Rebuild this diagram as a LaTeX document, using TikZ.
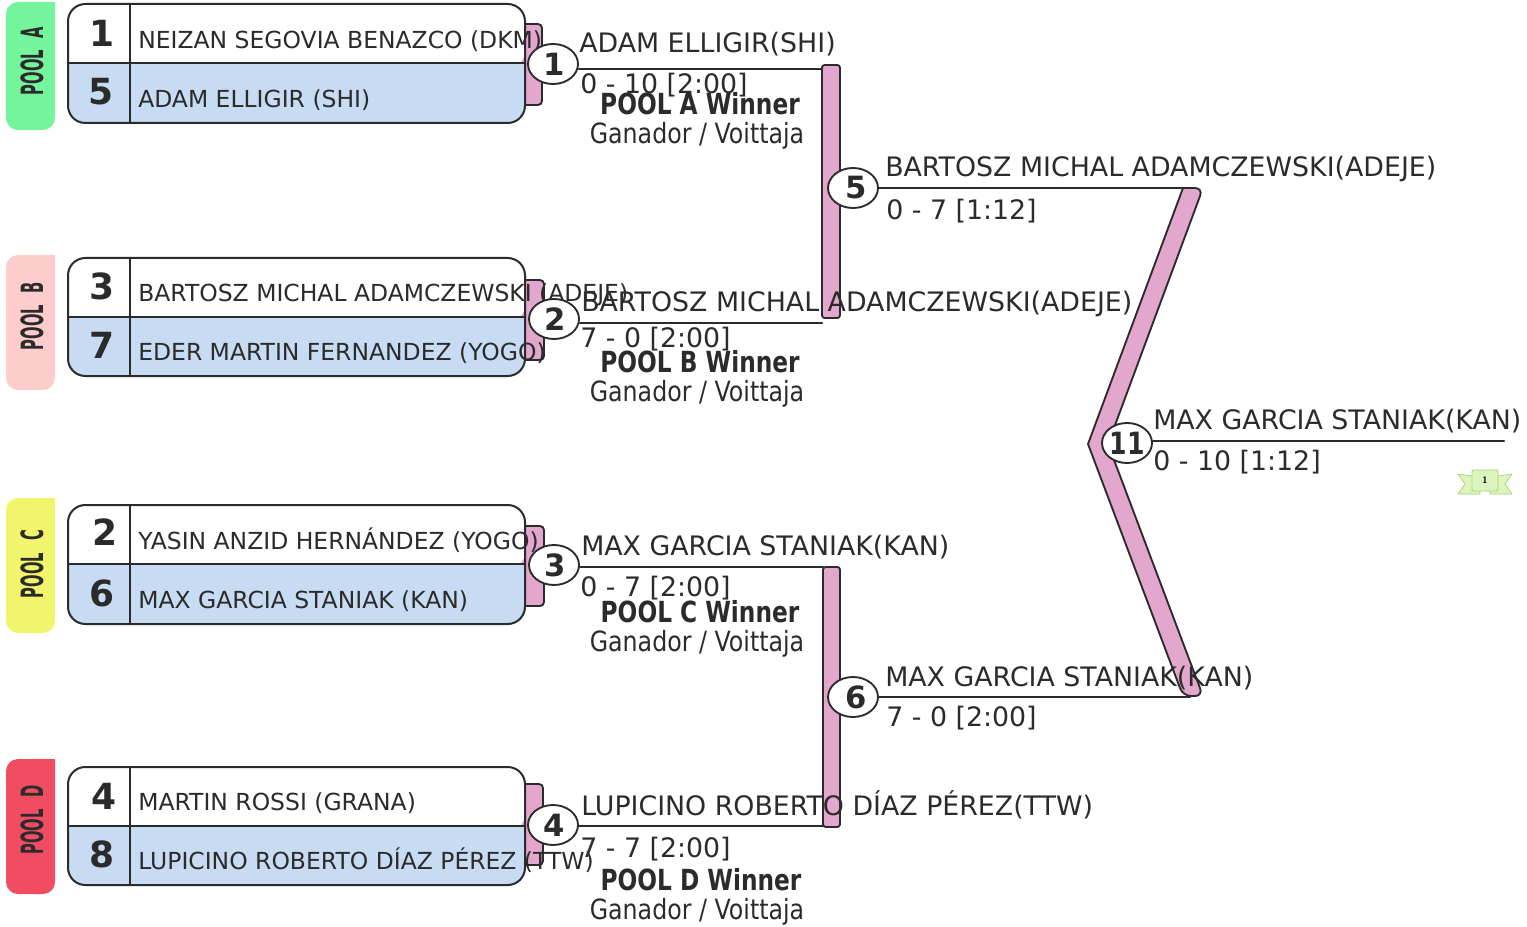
\documentclass[tikz,border=0pt]{standalone}
\usepackage{fontspec}
\setmainfont{DejaVu Sans}
\newfontfamily\condfont[FakeStretch=0.85]{DejaVu Sans}
\newfontfamily\headfont[FakeStretch=0.8]{DejaVu Sans}
\newfontfamily\narrowfont[FakeStretch=0.48]{DejaVu Sans}
\newfontfamily\elevenfont[FakeStretch=0.82]{DejaVu Sans}
\definecolor{ttxxtt}{HTML}{2B2B2B}
\definecolor{ppinkk}{HTML}{E3A6CC}
\definecolor{bblueq}{HTML}{C7DCF2}
\definecolor{poola}{HTML}{74F59B}
\definecolor{poolb}{HTML}{FFCCCC}
\definecolor{poolc}{HTML}{F2F56B}
\definecolor{poold}{HTML}{F04D63}
\definecolor{ribfil}{HTML}{DDF5BC}
\definecolor{ribdrw}{HTML}{A5CF7E}
\tikzset{
player/.style={anchor=base west,inner sep=0pt,text=ttxxtt,font=\fontsize{17.6}{17.6}\selectfont},
seed/.style={anchor=base,inner sep=0pt,text=ttxxtt,font=\fontsize{27}{27}\selectfont\bfseries},
winner/.style={anchor=base west,inner sep=0pt,text=ttxxtt,font=\fontsize{20.1}{20.1}\selectfont},
poolname/.style={anchor=base,inner sep=0pt,text=ttxxtt,font=\fontsize{21.8}{21.8}\selectfont\headfont\bfseries},
wintext/.style={anchor=base,inner sep=0pt,text=ttxxtt,font=\fontsize{20.9}{20.9}\selectfont\condfont},
poolside/.style={anchor=center,rotate=90,inner sep=0pt,text=ttxxtt,font=\fontsize{23}{23}\selectfont\narrowfont\bfseries},
match/.style={ellipse,draw=ttxxtt,fill=white,line width=1.4pt,minimum width=37.5pt,minimum height=30pt,inner sep=0pt,text=ttxxtt,font=\fontsize{23}{23}\selectfont\bfseries},
wire/.style={draw=ttxxtt,line width=1.5pt},
bar/.style={draw=ttxxtt,fill=ppinkk,line width=1.4pt}
}
\usetikzlibrary{shapes.geometric}
\begin{document}
\begin{tikzpicture}[line cap=round,line join=round,x=0.75pt,y=-0.75pt]
\useasboundingbox (0,0) rectangle (1527,927);
% pool tabs
\foreach \c/\t/\b in {poola/2/130,poolb/255/390,poolc/498/633,poold/759/894}
\fill[color=\c,rounded corners=9pt] (55,\t) -- (6,\t) -- (6,\b) -- (55,\b) [sharp corners] -- cycle;
\node[poolside] (poolA) at (32,61) {POOL\hspace{9pt}A};
\node[poolside] (poolB) at (32,316) {POOL\hspace{9pt}B};
\node[poolside] (poolC) at (32,564) {POOL\hspace{9pt}C};
\node[poolside] (poolD) at (32,820) {POOL\hspace{9pt}D};
% pink tabs behind the boxes
\foreach \t/\b/\r in {24/105/542,280/360/544,526/606/544,784/865/543}
\draw[bar,rounded corners=3pt] (520,\t) -- (\r,\t) -- (\r,\b) -- (520,\b);
% pool boxes
\foreach \t/\m/\b in {4/63/123,258/317/376,505/564/624,767/826/885} {
\fill[white,rounded corners=13pt] (68,\t) rectangle (525,\m+5);
\fill[bblueq,rounded corners=13pt] (525,\m) -- (525,\b) -- (68,\b) -- (68,\m) [sharp corners] -- cycle;
\fill[bblueq] (68,\m) rectangle (525,\m+15);
\draw[ttxxtt,line width=1.5pt,rounded corners=13pt] (68,\t) rectangle (525,\b);
\draw[ttxxtt,line width=1.5pt] (68,\m) -- (525,\m);
\draw[ttxxtt,line width=1.2pt] (130,\t) -- (130,\b);
}
\node[seed] (s1) at (102,47) {1};
\node[seed] (s5) at (101,105) {5};
\node[seed] (s3) at (102,300) {3};
\node[seed] (s7) at (102,358) {7};
\node[seed] (s2) at (105,545) {2};
\node[seed] (s6) at (102,606) {6};
\node[seed] (s4) at (104,809) {4};
\node[seed] (s8) at (102,867) {8};
\node[player] (p1) at (138,49) {NEIZAN SEGOVIA BENAZCO (DKM)};
\node[player] (p5) at (138,108) {ADAM ELLIGIR (SHI)};
\node[player] (p3) at (138,301) {BARTOSZ MICHAL ADAMCZEWSKI (ADEJE)};
\node[player] (p7) at (138,360) {EDER MARTIN FERNANDEZ (YOGO)};
\node[player] (p2) at (138,549) {YASIN ANZID HERNÁNDEZ (YOGO)};
\node[player] (p6) at (138,608) {MAX GARCIA STANIAK (KAN)};
\node[player] (p4) at (138,810) {MARTIN ROSSI (GRANA)};
\node[player] (p8) at (138,869) {LUPICINO ROBERTO DÍAZ PÉREZ (TTW)};
% bars
\draw[bar,rounded corners=2pt] (822,65) rectangle (840,318);
\draw[bar,rounded corners=2pt] (823,567) rectangle (840,827);
\draw[bar] (1088,444) -- (1183,188) [rounded corners=6pt] -- (1203,188) [sharp corners] -- (1108,444) [rounded corners=6pt] -- (1203,696) -- (1183,696) [sharp corners] -- cycle;
% matches
\node[match] (m1) at (553,64) {\hspace{1pt}1};
\node[match] (m2) at (554,319) {\hspace{1pt}2};
\node[match] (m3) at (554,565) {\hspace{1pt}3};
\node[match] (m4) at (553,825) {\hspace{1pt}4};
\node[match] (m5) at (853,188) {\hspace{4pt}5};
\node[match] (m6) at (853,697) {\hspace{4pt}6};
\node[match] (m11) at (1127,443) {\makebox[0pt]{\elevenfont 11}};
\coordinate (b1) at (822,69);
\coordinate (b2) at (822,323);
\coordinate (b3) at (823,567);
\coordinate (b4) at (823,826);
\coordinate (b5) at (1185,188);
\coordinate (b6) at (1190,697);
\coordinate (champ) at (1504,441);
\draw[wire] (m1.east |- b1) -- (b1);
\draw[wire] (m2.east |- b2) -- (b2);
\draw[wire] (m3.east |- b3) -- (b3);
\draw[wire] (m4.east |- b4) -- (b4);
\draw[wire] (m5) -- (b5);
\draw[wire] (m6) -- (b6);
\draw[wire] (m11.east |- champ) -- (champ);
% results
\node[winner] (w1) at (579,53) {ADAM ELLIGIR(SHI)};
\node[winner] (r1) at (580,94) {0 - 10 [2:00]};
\node[winner] (w2) at (581,311) {BARTOSZ MICHAL ADAMCZEWSKI(ADEJE)};
\node[winner] (r2) at (580,347) {7 - 0 [2:00]};
\node[winner] (w3) at (581,555) {MAX GARCIA STANIAK(KAN)};
\node[winner] (r3) at (580,596) {0 - 7 [2:00]};
\node[winner] (w4) at (581,815) {LUPICINO ROBERTO DÍAZ PÉREZ(TTW)};
\node[winner] (r4) at (580,857) {7 - 7 [2:00]};
\node[winner] (w5) at (885,177) {BARTOSZ MICHAL ADAMCZEWSKI(ADEJE)};
\node[winner] (r5) at (886,220) {0 - 7 [1:12]};
\node[winner] (w6) at (885,686) {MAX GARCIA STANIAK(KAN)};
\node[winner] (r6) at (886,726) {7 - 0 [2:00]};
\node[winner] (w11) at (1153,429) {MAX GARCIA STANIAK(KAN)};
\node[winner] (r11) at (1153,470) {0 - 10 [1:12]};
\node[poolname] (nA) at (700,115) {POOL A Winner};
\node[wintext] (gA) at (697,144) {Ganador / Voittaja};
\node[poolname] (nB) at (700,372) {POOL B Winner};
\node[wintext] (gB) at (697,401) {Ganador / Voittaja};
\node[poolname] (nC) at (700,622) {POOL C Winner};
\node[wintext] (gC) at (697,651) {Ganador / Voittaja};
\node[poolname] (nD) at (701,890) {POOL D Winner};
\node[wintext] (gD) at (697,919) {Ganador / Voittaja};
% ribbon
\draw[ribdrw,fill=ribfil,line width=0.5pt] (1472,476) -- (1458,474) -- (1465,484) -- (1458,494) -- (1480,494) -- (1480,490) -- cycle;
\draw[ribdrw,fill=ribfil,line width=0.5pt] (1498,476) -- (1512,474) -- (1505,484) -- (1512,494) -- (1490,494) -- (1490,490) -- cycle;
\draw[ribdrw,fill=ribfil,line width=0.7pt,rounded corners=1pt] (1472,470) rectangle (1498,491);
\node[inner sep=0pt,text=black,font=\fontsize{7}{7}\selectfont\sffamily\bfseries] (rib) at (1485,480) {1};
\end{tikzpicture}
\end{document}
